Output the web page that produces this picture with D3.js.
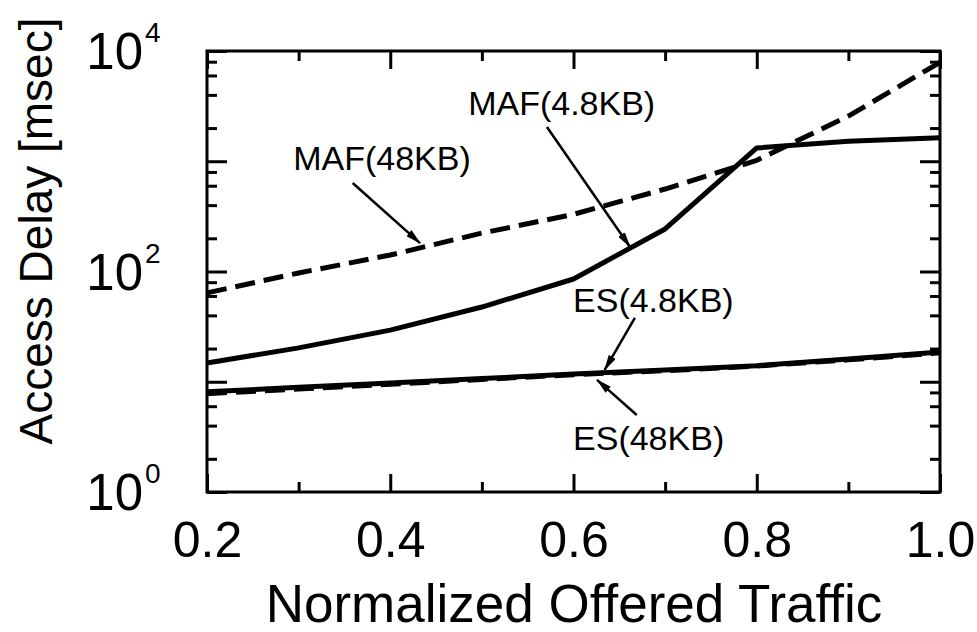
<!DOCTYPE html>
<html>
<head>
<meta charset="utf-8">
<script src="https://cdn.jsdelivr.net/npm/d3@7"></script>
<style>
  body { margin: 0; background: #fff; }
  text { font-family: "Liberation Sans", Arial, Helvetica, sans-serif; fill: #000; }
</style>
</head>
<body>
<div id="chart"></div>
<script>
var width = 977,
    height = 632;

// offered traffic (x)
var traffic = [0.2, 0.3, 0.4, 0.5, 0.6, 0.7, 0.8, 0.9, 1.0];

// access delay in msec
var maf48  = [64, 97, 141, 223, 330, 560, 1020, 2570, 7900];
var maf4_8 = [14.8, 20.3, 29.4, 47.6, 85.5, 243, 1320, 1520, 1630];
var es4_8  = [8.1, 8.9, 9.75, 10.7, 11.75, 12.8, 14.0, 16.1, 18.6];
var es48   = [7.8, 8.6, 9.5, 10.5, 11.6, 12.6, 13.9, 15.8, 18.3];

var xMajor = [0.2, 0.4, 0.6, 0.8, 1.0];
var xMinor = [0.3, 0.5, 0.7, 0.9];
var yExp = [0, 2, 4];

// labels: text, label anchor [x, y] and arrow [from, to] in data units
var notes = [
  {text: "MAF(48KB)",  at: [0.294, 834],  from: [0.359, 635],  to: [0.4325, 181]},
  {text: "MAF(4.8KB)", at: [0.485, 2630], from: [0.571, 2045], to: [0.6617, 167]},
  {text: "ES(4.8KB)",  at: [0.5995, 42.9], from: [0.667, 37.9], to: [0.634, 12.8]},
  {text: "ES(48KB)",   at: [0.5995, 2.40], from: [0.669, 4.99], to: [0.6257, 10.4]}
];

var series = [
  {name: "MAF(48KB)",  values: maf48,  dashed: true},
  {name: "MAF(4.8KB)", values: maf4_8, dashed: false},
  {name: "ES(48KB)",   values: es48,   dashed: true},
  {name: "ES(4.8KB)",  values: es4_8,  dashed: false}
];

var x = d3.scaleLinear()
  .domain([0.2, 1.0])
  .range([207, 940]);

var y = d3.scaleLog()
  .domain([1, 1e4])
  .range([492, 51]);

var svg = d3.select("#chart").append("svg")
    .attr("width", width)
    .attr("height", height);

svg.append("defs").append("marker")
    .attr("id", "head")
    .attr("viewBox", "0 0 16 8")
    .attr("refX", 15)
    .attr("refY", 4)
    .attr("markerWidth", 16)
    .attr("markerHeight", 8)
    .attr("markerUnits", "userSpaceOnUse")
    .attr("orient", "auto")
  .append("path")
    .attr("d", "M0,0L16,4L0,8Z")
    .attr("fill", "#000");

// y minor ticks at 2,4,6,8 of each decade
var yMinor = [];
[0, 1, 2, 3].forEach(function(e) {
  [2, 4, 6, 8].forEach(function(m) { yMinor.push(m * Math.pow(10, e)); });
});
var yMajor = [1, 10, 100, 1000, 10000];

function styleAxis(g) {
  g.select(".domain").remove();
  g.selectAll("line").attr("stroke", "#000").attr("stroke-width", 3);
  return g;
}

// x ticks, bottom and top, inward
svg.append("g").attr("transform", "translate(0,492)")
  .call(d3.axisBottom(x).tickValues(xMajor).tickSize(-18).tickPadding(29).tickFormat(d3.format(".1f")))
  .call(styleAxis)
  .selectAll("text").attr("font-size", 50).attr("font-family", null);
svg.append("g").attr("transform", "translate(0,492)")
  .call(d3.axisBottom(x).tickValues(xMinor).tickSize(-10).tickFormat(""))
  .call(styleAxis);
svg.append("g").attr("transform", "translate(0,51)")
  .call(d3.axisTop(x).tickValues(xMajor).tickSize(-18).tickFormat(""))
  .call(styleAxis);
svg.append("g").attr("transform", "translate(0,51)")
  .call(d3.axisTop(x).tickValues(xMinor).tickSize(-10).tickFormat(""))
  .call(styleAxis);

// y ticks, left and right
svg.append("g").attr("transform", "translate(207,0)")
  .call(d3.axisLeft(y).tickValues(yMajor).tickSize(-20).tickFormat(""))
  .call(styleAxis);
svg.append("g").attr("transform", "translate(207,0)")
  .call(d3.axisLeft(y).tickValues(yMinor).tickSize(-10).tickFormat(""))
  .call(styleAxis);
svg.append("g").attr("transform", "translate(940,0)")
  .call(d3.axisRight(y).tickValues(yMajor).tickSize(-20).tickFormat(""))
  .call(styleAxis);
svg.append("g").attr("transform", "translate(940,0)")
  .call(d3.axisRight(y).tickValues(yMinor).tickSize(-10).tickFormat(""))
  .call(styleAxis);

// y tick labels 10^n
svg.selectAll(".ylab")
  .data(yExp)
  .enter().append("text")
    .attr("class", "ylab")
    .attr("x", 143)
    .attr("y", function(d) { return y(Math.pow(10, d)) + 18; })
    .attr("text-anchor", "end")
    .attr("font-size", 51)
    .text("10");
svg.selectAll(".yexp")
  .data(yExp)
  .enter().append("text")
    .attr("class", "yexp")
    .attr("x", 145)
    .attr("y", function(d) { return y(Math.pow(10, d)) - 9; })
    .attr("font-size", 28)
    .text(function(d) { return d; });

// frame
svg.append("rect")
    .attr("x", 207)
    .attr("y", 51)
    .attr("width", 733)
    .attr("height", 441)
    .attr("fill", "none")
    .attr("stroke", "#000")
    .attr("stroke-width", 3);

var line = d3.line()
  .x(function(d, i) { return x(traffic[i]); })
  .y(function(d) { return y(d); });

svg.selectAll(".series")
  .data(series)
  .enter().append("path")
    .attr("class", "series")
    .attr("d", function(s) { return line(s.values); })
    .attr("fill", "none")
    .attr("stroke", "#000")
    .attr("stroke-width", 5)
    .attr("stroke-linejoin", "round")
    .attr("stroke-dasharray", function(s) { return s.dashed ? "20,9" : null; });

// annotations
svg.selectAll(".note")
  .data(notes)
  .enter().append("text")
    .attr("class", "note")
    .attr("x", function(d) { return x(d.at[0]); })
    .attr("y", function(d) { return y(d.at[1]); })
    .attr("font-size", 34)
    .text(function(d) { return d.text; });

svg.selectAll(".arrow")
  .data(notes)
  .enter().append("line")
    .attr("class", "arrow")
    .attr("x1", function(d) { return x(d.from[0]); })
    .attr("y1", function(d) { return y(d.from[1]); })
    .attr("x2", function(d) { return x(d.to[0]); })
    .attr("y2", function(d) { return y(d.to[1]); })
    .attr("stroke", "#000")
    .attr("stroke-width", 2.5)
    .attr("marker-end", "url(#head)");

// axis titles
svg.append("text")
    .attr("x", 574)
    .attr("y", 622)
    .attr("text-anchor", "middle")
    .attr("font-size", 53)
    .text("Normalized Offered Traffic");

svg.append("text")
    .attr("transform", "translate(52,231) rotate(-90)")
    .attr("text-anchor", "middle")
    .attr("font-size", 46)
    .text("Access Delay [msec]");
</script>
</body>
</html>
